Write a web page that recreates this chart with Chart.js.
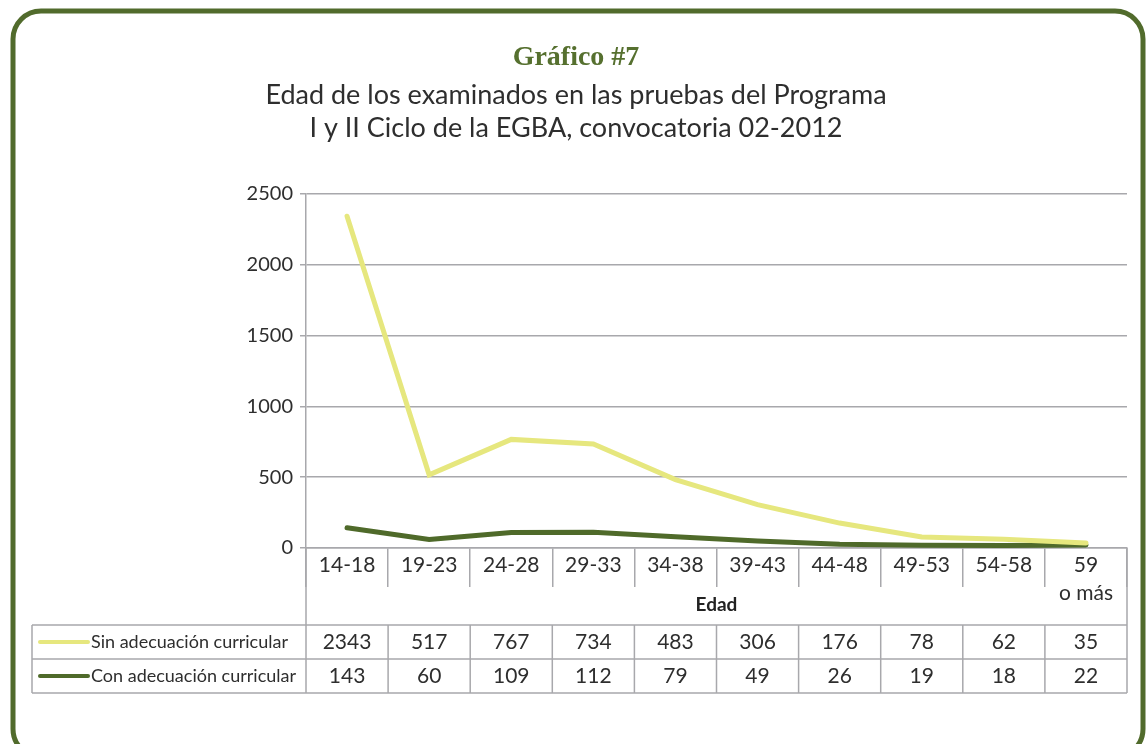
<!DOCTYPE html>
<html>
<head>
<meta charset="utf-8">
<script src="https://cdn.jsdelivr.net/npm/chart.js@4.4.1/dist/chart.umd.min.js"></script>
<style>
    html, body { margin: 0; padding: 0; background: #fff; }
</style>
</head>
<body>
<canvas id="grafico7" width="1146" height="744"></canvas>
<script>
// datos del grafico
const edades = ['14-18', '19-23', '24-28', '29-33', '34-38', '39-43', '44-48', '49-53', '54-58', ['59', 'o más']];
const sinAdecuacion = [2343, 517, 767, 734, 483, 306, 176, 78, 62, 35];
const conAdecuacion = [143, 60, 109, 112, 79, 49, 26, 19, 18, 22];
const nombresSeries = ['Sin adecuación curricular', 'Con adecuación curricular'];

const verdeOscuro = '#4f6a2a';
const amarillo = '#e6e77e';
const gris = '#a8a8ac';
const texto = '#2e2e2e';

// marco, titulos y tabla de datos debajo del eje
const tablaPlugin = {
    id: 'tablaDatos',
    afterDraw(chart) {
        const ctx = chart.ctx;
        const area = chart.chartArea;
        const x = chart.scales.x;
        const ancho = x.getPixelForValue(1) - x.getPixelForValue(0);
        const filaTop = area.bottom + 77;
        const filaMed = filaTop + 34;
        const filaBot = filaMed + 34;
        const tablaIzq = 32;

        ctx.save();

        // marco redondeado
        ctx.strokeStyle = '#516b2c';
        ctx.lineWidth = 5;
        ctx.beginPath();
        ctx.roundRect(13, 11, 1130, 746, 28);
        ctx.stroke();

        // titulos
        ctx.textAlign = 'center';
        ctx.textBaseline = 'middle';
        ctx.fillStyle = '#56702f';
        ctx.font = 'bold 28px "Liberation Serif"';
        ctx.fillText('Gráfico #7', 576, 58);
        ctx.fillStyle = texto;
        ctx.font = '27px Lato';
        ctx.fillText('Edad de los examinados en las pruebas del Programa', 576, 95);
        ctx.fillText('I y II Ciclo de la EGBA, convocatoria 02-2012', 576, 128);

        // titulo del eje
        ctx.font = 'bold 19px Lato';
        ctx.fillStyle = '#222';
        ctx.fillText('Edad', (area.left + area.right) / 2, area.bottom + 57);

        // lineas de la tabla
        ctx.strokeStyle = gris;
        ctx.lineWidth = 1.5;
        ctx.beginPath();
        [filaTop, filaMed, filaBot].forEach(function (y) {
            ctx.moveTo(tablaIzq, y);
            ctx.lineTo(area.right, y);
        });
        ctx.moveTo(tablaIzq, filaTop);
        ctx.lineTo(tablaIzq, filaBot);
        ctx.moveTo(area.left, area.bottom);
        ctx.lineTo(area.left, filaBot);
        ctx.moveTo(area.right, area.bottom);
        ctx.lineTo(area.right, filaBot);
        for (let i = 1; i < edades.length; i++) {
            const bx = x.getPixelForValue(i) - ancho / 2;
            ctx.moveTo(bx, filaTop);
            ctx.lineTo(bx, filaBot);
        }
        ctx.stroke();

        // valores y leyenda
        const filas = [filaTop + 17, filaMed + 17];
        chart.data.datasets.forEach(function (ds, d) {
            const y = filas[d];
            ctx.strokeStyle = ds.borderColor;
            ctx.lineWidth = 4;
            ctx.lineCap = 'round';
            ctx.beginPath();
            ctx.moveTo(40, y);
            ctx.lineTo(88, y);
            ctx.stroke();

            ctx.fillStyle = texto;
            ctx.textAlign = 'left';
            ctx.font = '18px Lato';
            ctx.fillText(ds.label, 91, y);

            ctx.textAlign = 'center';
            ctx.font = '21px Lato';
            ds.data.forEach(function (v, i) {
                ctx.fillText(String(v), x.getPixelForValue(i), y);
            });
        });

        ctx.restore();
    }
};

let ctx = document.getElementById('grafico7').getContext('2d');
let grafico = new Chart(ctx, {
    type: 'line',
    data: {
        labels: edades,
        datasets: [{
            label: nombresSeries[0],
            data: sinAdecuacion,
            borderColor: amarillo,
            borderWidth: 5,
            borderCapStyle: 'round',
            pointRadius: 0,
            tension: 0,
            fill: false
        },
        {
            label: nombresSeries[1],
            data: conAdecuacion,
            borderColor: verdeOscuro,
            borderWidth: 5,
            borderCapStyle: 'round',
            pointRadius: 0,
            tension: 0,
            fill: false
        }]
    },
    options: {
        responsive: false,
        animation: false,
        layout: {
            padding: { top: 194, right: 19, bottom: 0, left: 0 }
        },
        plugins: {
            legend: { display: false },
            tooltip: { enabled: false }
        },
        scales: {
            x: {
                offset: true,
                afterFit: function (scale) { scale.height = 196; },
                grid: {
                    offset: true,
                    drawOnChartArea: false,
                    tickLength: 39,
                    color: gris,
                    lineWidth: 1.5
                },
                border: { color: gris, width: 1.5 },
                ticks: {
                    autoSkip: false,
                    maxRotation: 0,
                    padding: -35,
                    color: texto,
                    font: { family: 'Lato', size: 21, lineHeight: 1.3 }
                }
            },
            y: {
                min: 0,
                max: 2500,
                afterFit: function (scale) { scale.width = 306; },
                grid: {
                    color: gris,
                    lineWidth: 1.5,
                    tickLength: 6
                },
                border: { color: gris, width: 1.5 },
                ticks: {
                    stepSize: 500,
                    padding: 7,
                    color: texto,
                    font: { family: 'Lato', size: 20 },
                    callback: function (v) { return String(v); }
                }
            }
        }
    },
    plugins: [tablaPlugin]
});
</script>
</body>
</html>
